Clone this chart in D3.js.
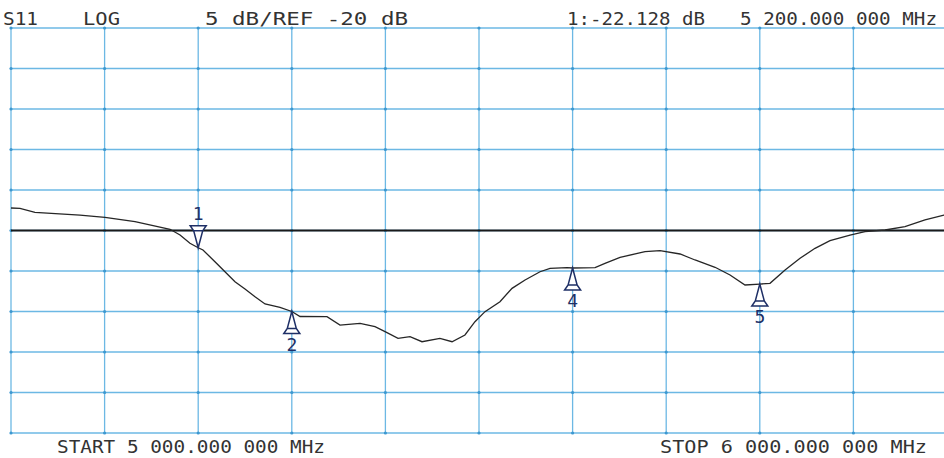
<!DOCTYPE html>
<html lang="en">
<head>
<meta charset="UTF-8">
<title>S11 sweep</title>
<style>
    body { margin: 0; background: #fff; overflow: hidden; }
    text { font-family: "DejaVu Sans Mono", monospace; }
</style>
</head>
<body>
<div id="chart"></div>
<script src="https://cdn.jsdelivr.net/npm/d3@7"></script>
<script>
    // Trace: frequency (MHz) and S11 (dB)
    const freqs = [5000, 5009.6, 5025.6, 5073.7, 5100.4, 5132.5, 5169.9, 5180.6, 5191.2, 5200,
        5205.1, 5217.9, 5228.6, 5239.3, 5250, 5260.7, 5271.4, 5287.4, 5300, 5308.8,
        5337.6, 5351.5, 5372.9, 5388.9, 5399.6, 5413.5, 5426.3, 5439.1, 5458.3, 5471.2,
        5485, 5495.7, 5506.4, 5522.4, 5535.3, 5549.2, 5565.2, 5575.9, 5594, 5600,
        5624, 5634.6, 5650.7, 5677.4, 5693.4, 5714.8, 5730.8, 5752.2, 5768.2, 5784.2,
        5800, 5810.9, 5827, 5843, 5859, 5875, 5896.4, 5912.4, 5933.8, 5955.1,
        5976.5, 5996.8, 6000];
    const s11 = [-17.22, -17.28, -17.75, -18.09, -18.37, -18.91, -19.85, -20.56, -21.58, -22.13,
        -22.41, -23.85, -25.09, -26.32, -27.22, -28.17, -29.07, -29.48, -30.0, -30.62,
        -30.64, -31.67, -31.46, -31.88, -32.49, -33.31, -33.11, -33.73, -33.31, -33.73,
        -32.9, -31.26, -30.02, -28.79, -27.14, -26.11, -25.09, -24.67, -24.59, -24.63,
        -24.59, -24.05, -23.31, -22.62, -22.49, -22.90, -23.64, -24.54, -25.49, -26.73,
        -26.61, -26.52, -24.88, -23.43, -22.20, -21.26, -20.56, -20.15, -19.94, -19.53,
        -18.70, -18.09, -18.0];

    // Markers shown on screen
    const markerIds = ['1', '2', '4', '5'];
    const markerFreqs = [5200, 5300, 5600, 5800];
    const markerVals = [-22.13, -30.0, -24.63, -26.61];

    const refLevel = -20;
    const dbPerDiv = 5;

    // Annotation text
    const headerLeft = ['S11', 'LOG', '5 dB/REF -20 dB'];
    const headerRight = ['1:-22.128 dB', '5 200.000 000 MHz'];
    const footer = ['START 5 000.000 000 MHz', 'STOP 6 000.000 000 MHz'];

    const width = 944, height = 458;
    const plot = { left: 11, right: 947, top: 28, bottom: 433 };

    const x = d3.scaleLinear().domain([5000, 6000]).range([plot.left, plot.right]);
    const y = d3.scaleLinear()
        .domain([refLevel - 5 * dbPerDiv, refLevel + 5 * dbPerDiv])
        .range([plot.bottom, plot.top]);

    const svg = d3.select('#chart').append('svg')
        .attr('width', width)
        .attr('height', height);

    const gridColor = '#6cb8e4';
    const xGrid = d3.range(5000, 6000.1, 100);
    const yGrid = d3.range(y.domain()[0], y.domain()[1] + 0.1, dbPerDiv);

    const grid = svg.append('g').attr('stroke', gridColor).attr('stroke-width', 1.3);
    grid.selectAll('.gx').data(xGrid).join('line')
        .attr('x1', d => x(d)).attr('x2', d => x(d))
        .attr('y1', plot.top).attr('y2', plot.bottom);
    grid.selectAll('.gy').data(yGrid).join('line')
        .attr('x1', plot.left).attr('x2', plot.right)
        .attr('y1', d => y(d)).attr('y2', d => y(d));

    // little dots where grid lines cross
    const crossings = xGrid.flatMap(f => yGrid.map(v => [f, v]));
    svg.append('g').attr('fill', '#3d98d0')
        .selectAll('circle').data(crossings).join('circle')
        .attr('cx', d => x(d[0])).attr('cy', d => y(d[1])).attr('r', 1.6);

    // reference line
    svg.append('line')
        .attr('x1', plot.left).attr('x2', plot.right)
        .attr('y1', y(refLevel)).attr('y2', y(refLevel))
        .attr('stroke', '#1a1a1a').attr('stroke-width', 2);

    // trace
    const line = d3.line()
        .x((d, i) => x(freqs[i]))
        .y(d => y(d));
    svg.append('path')
        .datum(s11)
        .attr('d', line)
        .attr('fill', 'none')
        .attr('stroke', '#262626')
        .attr('stroke-width', 1.3);

    // markers
    const markerColor = '#1e2f66';
    const markers = svg.append('g')
        .selectAll('g').data(markerIds).join('g')
        .attr('transform', (d, i) => `translate(${x(markerFreqs[i])},${y(markerVals[i])})`);

    // marker 1 sits above the trace, the others below
    const dir = i => i === 0 ? -1 : 1;
    markers.append('path')
        .attr('d', (d, i) => {
            const s = dir(i);
            return `M0,0 L-4.5,${17 * s} L-8,${22 * s} L8,${22 * s} L4.5,${17 * s} Z M-4.5,${17 * s} L4.5,${17 * s}`;
        })
        .attr('fill', '#fff')
        .attr('stroke', markerColor)
        .attr('stroke-width', 1.5);
    markers.append('text')
        .attr('text-anchor', 'middle')
        .attr('y', (d, i) => dir(i) < 0 ? -28 : 39)
        .attr('fill', markerColor)
        .attr('font-family', '"DejaVu Sans", sans-serif')
        .attr('font-size', 18)
        .text(d => d);

    // header / footer texts
    const textColor = '#333';
    const labels = [
        { t: headerLeft[0], x: 3, w: 35, y: 25 },
        { t: headerLeft[1], x: 83, w: 37, y: 25 },
        { t: headerLeft[2], x: 205, w: 203, y: 25 },
        { t: headerRight[0], x: 567, w: 138, y: 25 },
        { t: headerRight[1], x: 740, w: 197, y: 25 },
        { t: footer[0], x: 57, w: 268, y: 453 },
        { t: footer[1], x: 660, w: 267, y: 453 }
    ];
    svg.append('g').selectAll('text').data(labels).join('text')
        .attr('x', d => d.x)
        .attr('y', d => d.y)
        .attr('textLength', d => d.w)
        .attr('lengthAdjust', 'spacingAndGlyphs')
        .attr('font-size', 17)
        .attr('fill', textColor)
        .text(d => d.t);
</script>
</body>
</html>
